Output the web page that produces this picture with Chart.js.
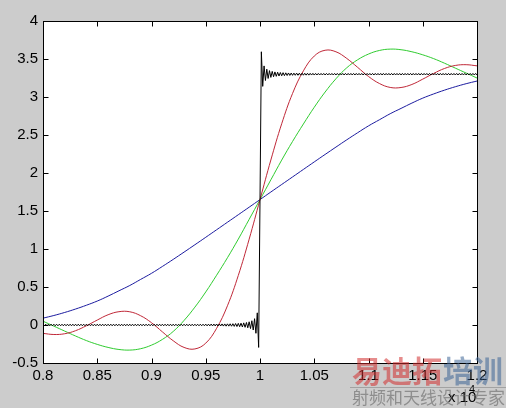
<!DOCTYPE html>
<html>
<head>
<meta charset="utf-8">
<script src="https://cdn.jsdelivr.net/npm/chart.js@4.4.0/dist/chart.umd.min.js"></script>
<style>
html, body { margin: 0; padding: 0; background: #cccccc; }
canvas { display: block; }
</style>
</head>
<body>
<canvas id="myChart" width="506" height="408"></canvas>
<script>
// sample positions for the three smooth curves (x 10^4)
var xGrid = [0.80, 0.81, 0.82, 0.83, 0.84, 0.85, 0.86, 0.87, 0.88, 0.89,
    0.90, 0.91, 0.92, 0.93, 0.94, 0.95, 0.96, 0.97, 0.98, 0.99,
    1.00, 1.01, 1.02, 1.03, 1.04, 1.05, 1.06, 1.07, 1.08, 1.09,
    1.10, 1.11, 1.12, 1.13, 1.14, 1.15, 1.16, 1.17, 1.18, 1.19, 1.20];

var blueCurve = [0.09, 0.125, 0.165, 0.21, 0.26, 0.315, 0.38, 0.45, 0.52, 0.60,
    0.68, 0.77, 0.863, 0.959, 1.056, 1.154, 1.253, 1.352, 1.451, 1.55,
    1.65, 1.75, 1.849, 1.948, 2.047, 2.146, 2.244, 2.341, 2.437, 2.53,
    2.62, 2.70, 2.78, 2.85, 2.92, 2.985, 3.04, 3.09, 3.135, 3.175, 3.21];

var greenCurve = [0.05, -0.015, -0.08, -0.145, -0.205, -0.255, -0.295, -0.322, -0.33, -0.312,
    -0.265, -0.19, -0.085, 0.06, 0.235, 0.435, 0.655, 0.885, 1.13, 1.39,
    1.65, 1.91, 2.17, 2.415, 2.645, 2.865, 3.065, 3.24, 3.385, 3.49,
    3.565, 3.612, 3.63, 3.622, 3.595, 3.555, 3.505, 3.445, 3.38, 3.315, 3.25];

var redCurve = [-0.11, -0.125, -0.115, -0.075, -0.01, 0.065, 0.135, 0.175, 0.174, 0.122,
    0.03, -0.09, -0.207, -0.295, -0.315, -0.239, -0.044, 0.253, 0.652, 1.129,
    1.65, 2.171, 2.648, 3.047, 3.344, 3.539, 3.615, 3.595, 3.507, 3.39,
    3.27, 3.178, 3.126, 3.125, 3.165, 3.235, 3.31, 3.375, 3.415, 3.425, 3.41];

// black curve: fine sampling from 0.8 to 1.2, step 0.00125 (321 samples)
var blackStart = 0.8;
var blackStep = 0.00125;
var blackCurve = [
    0.01, -0.01, 0.01, -0.01, 0.01, -0.01, 0.01, -0.01, 0.01, -0.01,
    0.01, -0.01, 0.01, -0.01, 0.01, -0.01, 0.01, -0.01, 0.01, -0.01, 0.01, -0.01, 0.01, -0.01, 0.01, -0.01, 0.01, -0.01, 0.01, -0.01,
    0.01, -0.01, 0.01, -0.01, 0.01, -0.01, 0.01, -0.01, 0.01, -0.01, 0.01, -0.01, 0.01, -0.01, 0.01, -0.01, 0.01, -0.01, 0.01, -0.01,
    0.01, -0.01, 0.01, -0.01, 0.01, -0.01, 0.01, -0.01, 0.01, -0.01, 0.01, -0.01, 0.01, -0.01, 0.01, -0.01, 0.01, -0.01, 0.01, -0.01,
    0.01, -0.01, 0.01, -0.01, 0.01, -0.01, 0.01, -0.01, 0.01, -0.01, 0.01, -0.01, 0.01, -0.01, 0.01, -0.01, 0.01, -0.01, 0.01, -0.01,
    0.01, -0.01, 0.01, -0.01, 0.01, -0.01, 0.01, -0.01, 0.01, -0.01, 0.01, -0.01, 0.01, -0.01, 0.01, -0.01, 0.01, -0.01, 0.01, -0.01,
    0.01, -0.01, 0.01, -0.01, 0.01, -0.01, 0.01, -0.01, 0.01, -0.01, 0.011, -0.011, 0.011, -0.011, 0.012, -0.012, 0.012, -0.012, 0.013, -0.013,
    0.013, -0.013, 0.014, -0.014, 0.014, -0.015, 0.015, -0.015, 0.016, -0.016,
    0.017, -0.018, 0.019, -0.02, 0.021, -0.022, 0.024, -0.026, 0.028, -0.03,
    0.033, -0.037, 0.042, -0.047, 0.056, -0.066, 0.083, -0.109, 0.16, -0.295,
    1.65,
    3.595, 3.14, 3.409, 3.217, 3.366, 3.244, 3.347, 3.258, 3.337, 3.267,
    3.33, 3.272, 3.326, 3.276, 3.322, 3.279, 3.32, 3.281, 3.318, 3.283,
    3.316, 3.284, 3.315, 3.285, 3.314, 3.286, 3.314, 3.286, 3.313, 3.287,
    3.313, 3.287, 3.312, 3.288, 3.312, 3.288, 3.311, 3.289, 3.311, 3.289,
    3.31, 3.29, 3.31, 3.29, 3.31, 3.29, 3.31, 3.29, 3.31, 3.29, 3.31, 3.29, 3.31, 3.29, 3.31, 3.29, 3.31, 3.29, 3.31, 3.29,
    3.31, 3.29, 3.31, 3.29, 3.31, 3.29, 3.31, 3.29, 3.31, 3.29, 3.31, 3.29, 3.31, 3.29, 3.31, 3.29, 3.31, 3.29, 3.31, 3.29,
    3.31, 3.29, 3.31, 3.29, 3.31, 3.29, 3.31, 3.29, 3.31, 3.29, 3.31, 3.29, 3.31, 3.29, 3.31, 3.29, 3.31, 3.29, 3.31, 3.29,
    3.31, 3.29, 3.31, 3.29, 3.31, 3.29, 3.31, 3.29, 3.31, 3.29, 3.31, 3.29, 3.31, 3.29, 3.31, 3.29, 3.31, 3.29, 3.31, 3.29,
    3.31, 3.29, 3.31, 3.29, 3.31, 3.29, 3.31, 3.29, 3.31, 3.29, 3.31, 3.29, 3.31, 3.29, 3.31, 3.29, 3.31, 3.29, 3.31, 3.29,
    3.31, 3.29, 3.31, 3.29, 3.31, 3.29, 3.31, 3.29, 3.31, 3.29, 3.31, 3.29, 3.31, 3.29, 3.31, 3.29, 3.31, 3.29, 3.31, 3.29
];

var xTickLabels = ['0.8', '0.85', '0.9', '0.95', '1', '1.05', '1.1', '1.15', '1.2'];
var yTickLabels = ['-0.5', '0', '0.5', '1', '1.5', '2', '2.5', '3', '3.5', '4'];

function toPoints(xs, ys) {
    return ys.map(function (y, i) { return { x: xs[i], y: y }; });
}
var blackX = blackCurve.map(function (y, i) { return +(blackStart + i * blackStep).toFixed(5); });

var axisFont = { family: 'Arial', size: 15 };

// figure background, white axes, box with inward ticks, exponent label, watermark
var matlabFrame = {
    id: 'matlabFrame',
    beforeDraw: function (chart) {
        var ctx = chart.ctx, a = chart.chartArea;
        ctx.save();
        ctx.fillStyle = '#cccccc';
        ctx.fillRect(0, 0, chart.width, chart.height);
        ctx.fillStyle = '#ffffff';
        ctx.fillRect(a.left, a.top, a.right - a.left, a.bottom - a.top);
        ctx.restore();
    },
    afterDraw: function (chart) {
        var ctx = chart.ctx, a = chart.chartArea;
        var xs = chart.scales.x, ys = chart.scales.y;
        var L = Math.round(a.left) + 0.5, R = Math.round(a.right) + 0.5;
        var T = Math.round(a.top) + 0.5, B = Math.round(a.bottom) + 0.5;
        ctx.save();
        ctx.strokeStyle = '#000';
        ctx.lineWidth = 1;
        ctx.strokeRect(L, T, R - L, B - T);
        ctx.beginPath();
        xs.ticks.forEach(function (t) {
            var p = Math.round(xs.getPixelForValue(t.value)) + 0.5;
            ctx.moveTo(p, B); ctx.lineTo(p, B - 5);
            ctx.moveTo(p, T); ctx.lineTo(p, T + 5);
        });
        ys.ticks.forEach(function (t) {
            var p = Math.round(ys.getPixelForValue(t.value)) + 0.5;
            ctx.moveTo(L, p); ctx.lineTo(L + 5, p);
            ctx.moveTo(R, p); ctx.lineTo(R - 5, p);
        });
        ctx.stroke();

        // x 10^4
        ctx.fillStyle = '#000';
        ctx.font = '15px Arial';
        ctx.textBaseline = 'alphabetic';
        ctx.fillText('x 10', 448, 402);
        ctx.font = '11px Arial';
        ctx.fillText('4', 469, 393);

        // watermark
        ctx.font = 'bold 30px "Noto Sans CJK SC"';
        ctx.textBaseline = 'middle';
        ctx.fillStyle = 'rgba(210, 45, 45, 0.55)';
        ctx.fillText('易迪拓', 352, 371);
        ctx.fillStyle = 'rgba(60, 100, 150, 0.55)';
        ctx.fillText('培训', 443, 371);
        ctx.strokeStyle = 'rgba(120, 120, 120, 0.5)';
        ctx.beginPath();
        ctx.moveTo(350, 387.5); ctx.lineTo(506, 387.5);
        ctx.stroke();
        ctx.font = '17px "Noto Sans CJK SC"';
        ctx.fillStyle = 'rgba(100, 100, 100, 0.6)';
        ctx.fillText('射频和天线设计专家', 352, 398);
        ctx.restore();
    }
};

var data = {
    datasets: [{
        label: 'black',
        data: toPoints(blackX, blackCurve),
        borderColor: '#000000',
        borderWidth: 1,
        tension: 0,
        order: 0
    }, {
        label: 'red',
        data: toPoints(xGrid, redCurve),
        borderColor: '#c02838',
        borderWidth: 1,
        tension: 0.4,
        order: 1
    }, {
        label: 'green',
        data: toPoints(xGrid, greenCurve),
        borderColor: '#30cc30',
        borderWidth: 1,
        tension: 0.4,
        order: 2
    }, {
        label: 'blue',
        data: toPoints(xGrid, blueCurve),
        borderColor: '#1c1ca0',
        borderWidth: 1,
        tension: 0.4,
        order: 3
    }]
};

var options = {
    responsive: false,
    animation: false,
    events: [],
    layout: { padding: { left: 0, right: 29, top: 21, bottom: 0 } },
    elements: { point: { radius: 0 } },
    plugins: {
        legend: { display: false },
        tooltip: { enabled: false }
    },
    scales: {
        x: {
            type: 'linear',
            min: 0.8,
            max: 1.2,
            grid: { display: false, drawTicks: false },
            border: { display: false },
            afterFit: function (s) { s.height = 45; },
            ticks: {
                stepSize: 0.05,
                padding: 4,
                maxRotation: 0,
                autoSkip: false,
                color: '#000',
                font: axisFont,
                callback: function (v, i) { return xTickLabels[i]; }
            }
        },
        y: {
            min: -0.5,
            max: 4,
            grid: { display: false, drawTicks: false },
            border: { display: false },
            afterFit: function (s) { s.width = 43; },
            ticks: {
                stepSize: 0.5,
                padding: 5,
                color: '#000',
                font: axisFont,
                callback: function (v, i) { return yTickLabels[i]; }
            }
        }
    }
};

var ctx = document.getElementById('myChart').getContext('2d');
var myChart = new Chart(ctx, {
    type: 'line',
    data: data,
    options: options,
    plugins: [matlabFrame]
});
</script>
</body>
</html>
